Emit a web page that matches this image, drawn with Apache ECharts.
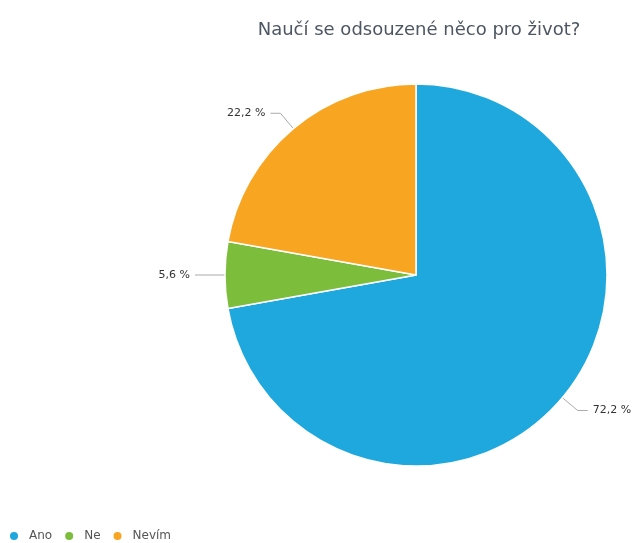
<!DOCTYPE html>
<html><head><meta charset="utf-8">
<script src="https://cdn.jsdelivr.net/npm/echarts@6/dist/echarts.min.js"></script>
<style>html,body{margin:0;padding:0;background:#fff}#c{width:638px;height:543px}</style>
</head><body><div id="c"></div>
<script>
const categories = ["Ano", "Ne", "Nevím"];
const values = [72.2, 5.6, 22.2];
const colors = ["#1fa8de", "#7cbd3c", "#f8a522"];
const chart = echarts.init(document.getElementById('c'));
chart.setOption({
  animation: false,
  title: { text: "Naučí se odsouzené něco pro život?", left: 414, top: 16, textAlign: 'center',
    textStyle: { fontFamily: 'DejaVu Sans', fontSize: 18, fontWeight: 'normal', color: '#4d5663' } },
  legend: { left: 8, top: 530, padding: 0, itemWidth: 10, itemHeight: 10, icon: 'circle', itemGap: 11,
    textStyle: { fontFamily: 'DejaVu Sans', fontSize: 12, color: '#555', padding: [0, 0, 0, 5] } },
  series: [{
    type: 'pie', center: [416, 275], radius: 191, startAngle: 90, clockwise: true,
    data: categories.map((n, i) => ({ name: n, value: values[i], itemStyle: { color: colors[i] } })),
    itemStyle: { borderColor: '#fff', borderWidth: 1.5 },
    label: { formatter: p => p.value.toFixed(1).replace('.', ',') + ' %', fontFamily: 'DejaVu Sans', fontSize: 11, color: '#333', overflow: 'none' },
    labelLine: { length: 20, length2: 10, lineStyle: { color: '#aaa', width: 1 } }
  }]
});
</script></body></html>
